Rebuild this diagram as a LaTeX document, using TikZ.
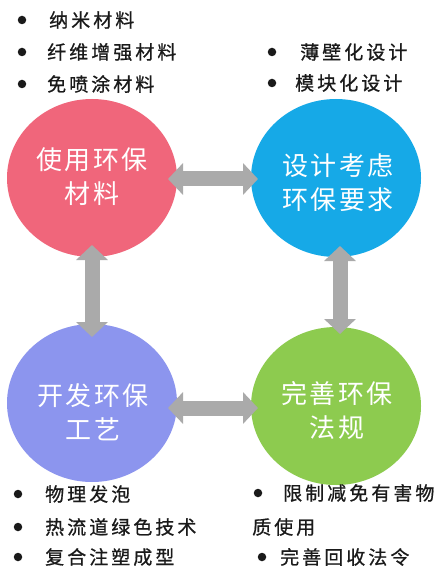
\documentclass[tikz,border=0pt]{standalone}
\usepackage{fontspec}
\setmainfont{Noto Sans CJK SC}
\usetikzlibrary{arrows.meta,shapes.geometric}
\definecolor{pinkc}{HTML}{F0667B}
\definecolor{bluec}{HTML}{16A9E7}
\definecolor{purplec}{HTML}{8C95EE}
\definecolor{greenc}{HTML}{8DCB4F}
\definecolor{arrowc}{HTML}{AAAAAA}
\definecolor{textc}{HTML}{1A1A1A}
\tikzset{
  blob/.style={ellipse, inner sep=0pt, minimum width=170pt, minimum height=158pt},
  ctext/.style={text=white, align=center, inner sep=0pt,
    font=\fontsize{26}{34}\selectfont\addfontfeature{LetterSpace=8}},
  btext/.style={text=textc, anchor=west, inner sep=0pt,
    font=\fontsize{19}{22}\selectfont\addfontfeature{LetterSpace=16,FakeBold=0.8}},
  dot/.style={circle, fill=textc, inner sep=0pt, minimum size=8.5pt},
  dblarrow/.style={draw=arrowc, line width=15pt,
    {Triangle[width=31pt,length=15pt]}-{Triangle[width=31pt,length=15pt]}}
}
\begin{document}
\begin{tikzpicture}[x=1pt,y=-1pt]
\useasboundingbox (0,0) rectangle (445,569);
\fill[white] (0,0) rectangle (445,569);

% circles
\node[blob, fill=pinkc]   (pink)   at (92,178) {};
\node[blob, fill=bluec]   (blue)   at (336,178) {};
\node[blob, fill=purplec] (purple) at (92,403) {};
\node[blob, fill=greenc]  (green)  at (336,406) {};

% arrow ends
\coordinate (ha1) at (168,179);
\coordinate (hb1) at (258,179);
\coordinate (ha2) at (168,408);
\coordinate (hb2) at (258,408);
\coordinate (va1) at (92,245);
\coordinate (vb1) at (92,337);
\coordinate (va2) at (340,246);
\coordinate (vb2) at (340,334);

\draw[dblarrow] (ha1) -- (hb1);
\draw[dblarrow] (ha2) -- (hb2);
\draw[dblarrow] (va1) -- (vb1);
\draw[dblarrow] (va2) -- (vb2);

% circle texts
\node[ctext] (pinkt)   at (92,177)  {使用环保\\材料};
\node[ctext] (bluet)   at (338,183) {设计考虑\\环保要求};
\node[ctext] (purplet) at (93,412)  {开发环保\\工艺};
\node[ctext] (greent)  at (337,410) {完善环保\\法规};

% top-left list
\node[dot] (d1) at (22,20) {};
\node[btext] (l1) at (49,20) {纳米材料};
\node[dot] (d2) at (22,52) {};
\node[btext] (l2) at (47,52) {纤维增强材料};
\node[dot] (d3) at (22,84) {};
\node[btext] (l3) at (47,84) {免喷涂材料};

% top-right list
\node[dot] (d4) at (272,52) {};
\node[btext] (r1) at (300,52) {薄壁化设计};
\node[dot] (d5) at (272,83) {};
\node[btext] (r2) at (295,83) {模块化设计};

% bottom-left list
\node[dot] (d6) at (18,494) {};
\node[btext] (p1) at (45,494) {物理发泡};
\node[dot] (d7) at (18,527) {};
\node[btext] (p2) at (45,527) {热流道绿色技术};
\node[dot] (d8) at (18,557) {};
\node[btext] (p3) at (45,557) {复合注塑成型};

% bottom-right list
\node[dot] (d9) at (258,493) {};
\node[btext] (q1) at (283,493) {限制减免有害物};
\node[btext] (q2) at (252,527) {质使用};
\node[dot] (d10) at (262,557) {};
\node[btext] (q3) at (280,557) {完善回收法令};
\end{tikzpicture}
\end{document}
